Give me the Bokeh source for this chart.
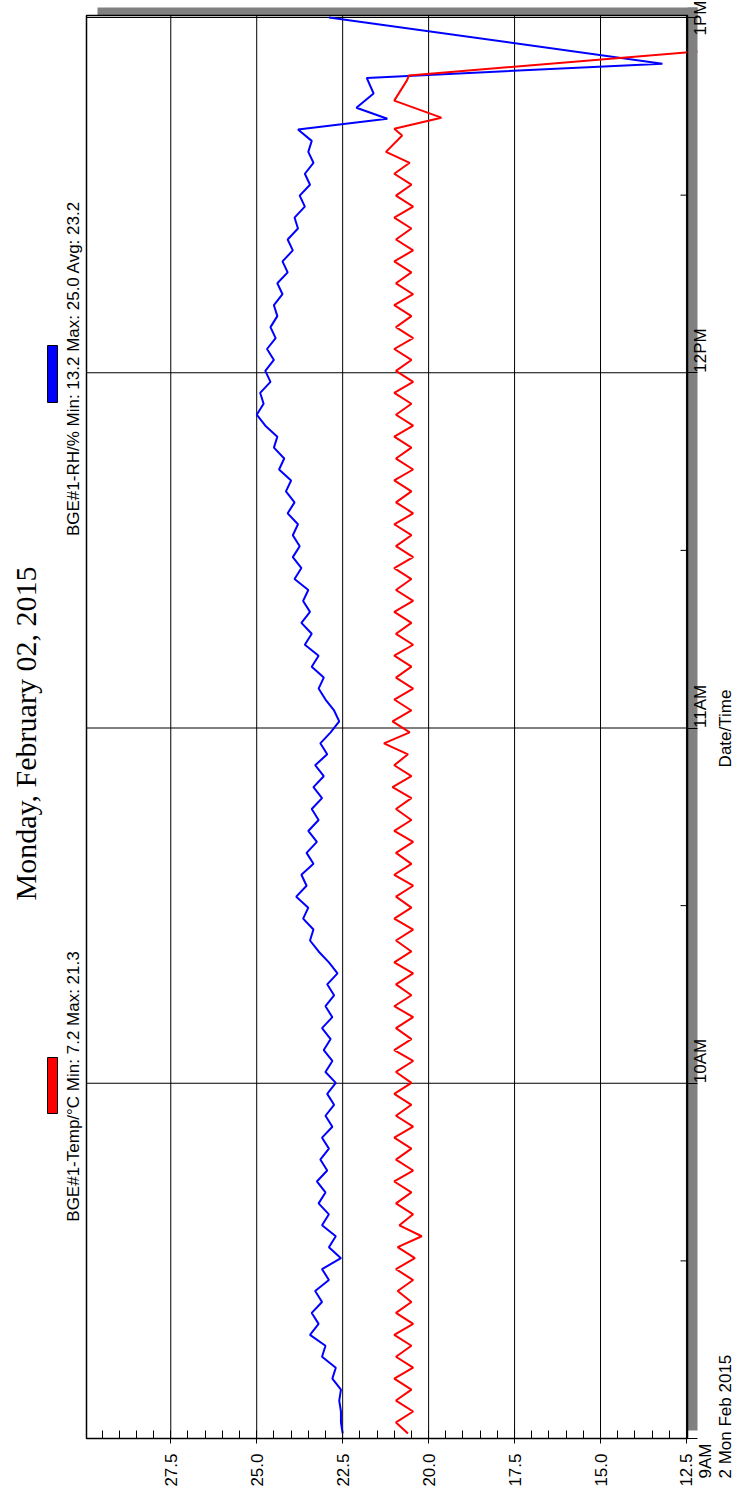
import numpy as np
from math import pi
from bokeh.plotting import figure
from bokeh.models import Range1d, FixedTicker, NumeralTickFormatter
from bokeh.core.properties import value
from bokeh.embed import file_html
from bokeh.resources import INLINE

TITLE = "Monday, February 02, 2015"
RH_LABEL = "BGE#1-RH/% Min: 13.2 Max: 25.0 Avg: 23.2"
TEMP_LABEL = "BGE#1-Temp/°C Min: 7.2 Max: 21.3"
AXIS_TITLE = "Date/Time"
START_TIME_LABEL = "9AM"
START_DATE_LABEL = "2 Mon Feb 2015"

# logger samples (hours of day) -- regular part starts 9:00.9, one value per 1.85 min
start_hour = 9 + 0.86 / 60
step_min = 1.85

rh_core = [
    22.5, 22.55,
    22.55, 22.6, 22.55, 22.8, 22.7, 23.1, 23.0, 23.45, 23.2, 23.4,
    23.1, 23.3, 22.9, 23.1, 22.55, 22.9, 22.7, 23.1, 22.9, 23.2,
    23.0, 23.25, 22.95, 23.15, 22.9, 23.1, 22.8, 23.0, 22.75, 22.95,
    22.7, 23.0, 22.8, 23.05, 22.85, 23.1, 22.8, 23.0, 22.75, 22.95,
    22.65, 22.9, 23.2, 23.45, 23.35, 23.65, 23.5, 23.85, 23.55, 23.7,
    23.35, 23.55, 23.25, 23.5, 23.2, 23.4, 23.1, 23.35, 23.05, 23.3,
    22.95, 23.15, 22.85, 22.6, 22.75, 23.0, 23.2, 23.05, 23.4, 23.2,
    23.6, 23.4, 23.7, 23.45, 23.65, 23.5, 23.9, 23.7, 23.95, 23.75,
    23.95, 23.8, 24.1, 23.9, 24.15, 24.0, 24.35, 24.2, 24.5, 24.4,
    24.75, 25.0, 24.8, 24.9, 24.6, 24.75, 24.5, 24.7, 24.45, 24.6,
    24.4, 24.5, 24.25, 24.4, 24.1, 24.25, 23.95, 24.1, 23.8, 23.9,
    23.6, 23.75, 23.45, 23.6, 23.35, 23.5, 23.4,
]
rh_tail_hours = [12.685, 12.715, 12.746, 12.786, 12.83, 12.87, 13.0]
rh_tail = [23.8, 21.2, 22.1, 21.6, 21.8, 13.2, 22.9]

temp_core = [
    20.6, 20.95,
    20.45, 20.95, 20.5, 21.0, 20.45, 20.95, 20.5, 21.0, 20.45, 20.95,
    20.5, 20.9, 20.45, 20.95, 20.4, 20.9, 20.2, 20.85, 20.45, 20.95,
    20.5, 21.0, 20.45, 20.95, 20.5, 21.0, 20.45, 20.95, 20.5, 21.0,
    20.5, 20.95, 20.45, 21.0, 20.5, 20.95, 20.45, 21.0, 20.5, 20.95,
    20.45, 21.0, 20.5, 20.95, 20.45, 21.0, 20.5, 20.95, 20.45, 21.0,
    20.5, 20.95, 20.45, 21.0, 20.5, 20.95, 20.5, 21.05, 20.5, 21.0,
    20.6, 21.3, 20.55, 21.05, 20.5, 21.0, 20.45, 20.95, 20.5, 21.0,
    20.45, 20.95, 20.5, 21.0, 20.45, 20.95, 20.5, 21.0, 20.45, 20.95,
    20.5, 21.0, 20.45, 20.95, 20.5, 21.0, 20.45, 20.95, 20.5, 21.0,
    20.45, 20.95, 20.5, 21.0, 20.45, 20.95, 20.5, 21.0, 20.45, 20.95,
    20.5, 21.0, 20.45, 20.95, 20.5, 21.0, 20.45, 20.95, 20.5, 21.0,
    20.45, 20.95, 20.5, 21.0, 20.55, 21.24,
]
temp_tail_hours = [12.668, 12.687, 12.718, 12.766, 12.823, 12.837, 12.944, 13.006]
temp_tail = [20.77, 21.0, 19.63, 21.0, 20.63, 20.57, 7.2, 7.4]

value_ticks = [12.5, 15.0, 17.5, 20.0, 22.5, 25.0, 27.5]
hour_ticks = [9, 10, 11, 12, 13]
hour_tick_labels = ["", "10AM", "11AM", "12PM", "1PM"]
half_hours = [9.5, 10.5, 11.5, 12.5]


def hours_for(core):
    return [start_hour + i * step_min / 60 for i in range(len(core))]


rh_hours = hours_for(rh_core) + rh_tail_hours
rh_vals = rh_core + rh_tail
temp_hours = hours_for(temp_core) + temp_tail_hours
temp_vals = temp_core + temp_tail

FONT = "Liberation Sans"
W, H = 737, 1491
PX_X = 34.38   # px per unit of value axis
PX_Y = 355.25  # px per hour


def vx(px):
    """value at a horizontal pixel position of the canvas"""
    return 12.47 + (687 - px) / PX_X


def ty(py):
    """hour at a vertical pixel position of the canvas"""
    return 9.0 + (1438 - py) / PX_Y


# bordered box
V_LEFT, V_RIGHT = vx(86), vx(687)
T_BOTTOM, T_TOP = ty(1438), ty(15)

p = figure(width=W, height=H, output_backend="svg", toolbar_location=None,
           x_range=Range1d(vx(0), vx(W)), y_range=Range1d(ty(H), ty(0)),
           x_axis_location="below", y_axis_location="right",
           min_border=0, min_border_left=0, min_border_right=0,
           min_border_top=0, min_border_bottom=0)
p.grid.visible = False
p.outline_line_color = None

# grid lines inside the box, at the axis ticks
p.segment(x0=value_ticks, x1=value_ticks, y0=[T_BOTTOM] * len(value_ticks),
          y1=[T_TOP] * len(value_ticks), color="black", line_width=1, level="underlay")
p.segment(x0=[V_LEFT] * 4, x1=[V_RIGHT] * 4, y0=hour_ticks[1:], y1=hour_ticks[1:],
          color="black", line_width=1, level="underlay")

# data
p.line(rh_vals, rh_hours, color="#0000FF", line_width=2)
p.line(temp_vals, temp_hours, color="#FF0000", line_width=2)

# half-hour ticks on the time axis, inside the box
p.segment(x0=[vx(680)] * len(half_hours), x1=[V_RIGHT] * len(half_hours),
          y0=half_hours, y1=half_hours, color="black", line_width=1)

# everything right of the shadow stays white (the data are cut at the box)
p.quad(left=[vx(697)], right=[vx(W + 5)], bottom=[ty(H + 5)], top=[ty(-5)],
       fill_color="white", line_color=None, level="annotation")
# drop shadow of the box (top and right bands)
p.quad(left=[vx(97), V_RIGHT], right=[vx(697), vx(697)],
       bottom=[T_TOP, ty(1430)], top=[ty(7), ty(7)],
       fill_color="#808080", line_color=None, level="annotation")
# border of the box
p.quad(left=[V_LEFT], right=[V_RIGHT], bottom=[T_BOTTOM], top=[T_TOP],
       fill_color=None, line_color="black", line_width=1.5, level="annotation")

# value axis (below the box)
xa = p.xaxis[0]
xa.fixed_location = T_BOTTOM
xa.bounds = (V_RIGHT, V_LEFT)
xa.ticker = FixedTicker(ticks=value_ticks, minor_ticks=list(np.arange(12.5, 30.0, 0.5)))
xa.formatter = NumeralTickFormatter(format="0.0")
xa.major_label_orientation = pi / 2
xa.major_tick_in = 0
xa.major_tick_out = 5
xa.minor_tick_in = 8
xa.minor_tick_out = 0
xa.major_label_standoff = 10
xa.axis_line_color = "black"

# time axis (right of the shadow band)
ya = p.yaxis[0]
ya.fixed_location = vx(697)
ya.bounds = (9, 13)
ya.ticker = FixedTicker(ticks=hour_ticks, minor_ticks=[])
ya.major_label_overrides = {h: s for h, s in zip(hour_ticks, hour_tick_labels)}
ya.major_label_orientation = pi / 2
ya.major_tick_in = 10
ya.major_tick_out = 0
ya.major_label_standoff = 3
ya.axis_line_color = None

for ax in (xa, ya):
    ax.level = "overlay"
    ax.major_tick_line_color = "black"
    ax.minor_tick_line_color = "black"
    ax.major_label_text_font = FONT
    ax.major_label_text_font_size = "17px"
    ax.major_label_text_color = "black"

# title and legend, left of the box
p.text(x=[vx(25)], y=[ty(733)], text=[TITLE], angle=pi / 2, text_align="center",
       text_baseline="middle", text_font=value("Liberation Serif"),
       text_font_size="30px", text_color="black", level="overlay")
p.text(x=[vx(73), vx(73)], y=[ty(1086), ty(368)], text=[TEMP_LABEL, RH_LABEL],
       angle=pi / 2, text_align="center", text_baseline="middle", text_font=value(FONT),
       text_font_size="17px", text_color="black", level="overlay")
p.quad(left=[vx(47), vx(47)], right=[vx(57), vx(57)],
       top=[ty(1057), ty(345)], bottom=[ty(1113), ty(402)],
       fill_color=["#FF0000", "#0000FF"], line_color="black", line_width=1, level="overlay")

# time-axis title and start stamp
p.text(x=[vx(725)], y=[ty(728)], text=[AXIS_TITLE], angle=pi / 2, text_align="center",
       text_baseline="middle", text_font=value(FONT), text_font_size="17px",
       text_color="black", level="overlay")
p.text(x=[vx(705), vx(725)], y=[ty(1478), ty(1478)],
       text=[START_TIME_LABEL, START_DATE_LABEL], angle=pi / 2, text_align="left",
       text_baseline="middle", text_font=value(FONT), text_font_size="17px",
       text_color="black", level="overlay")

open("out.html", "w").write(file_html(p, INLINE))
